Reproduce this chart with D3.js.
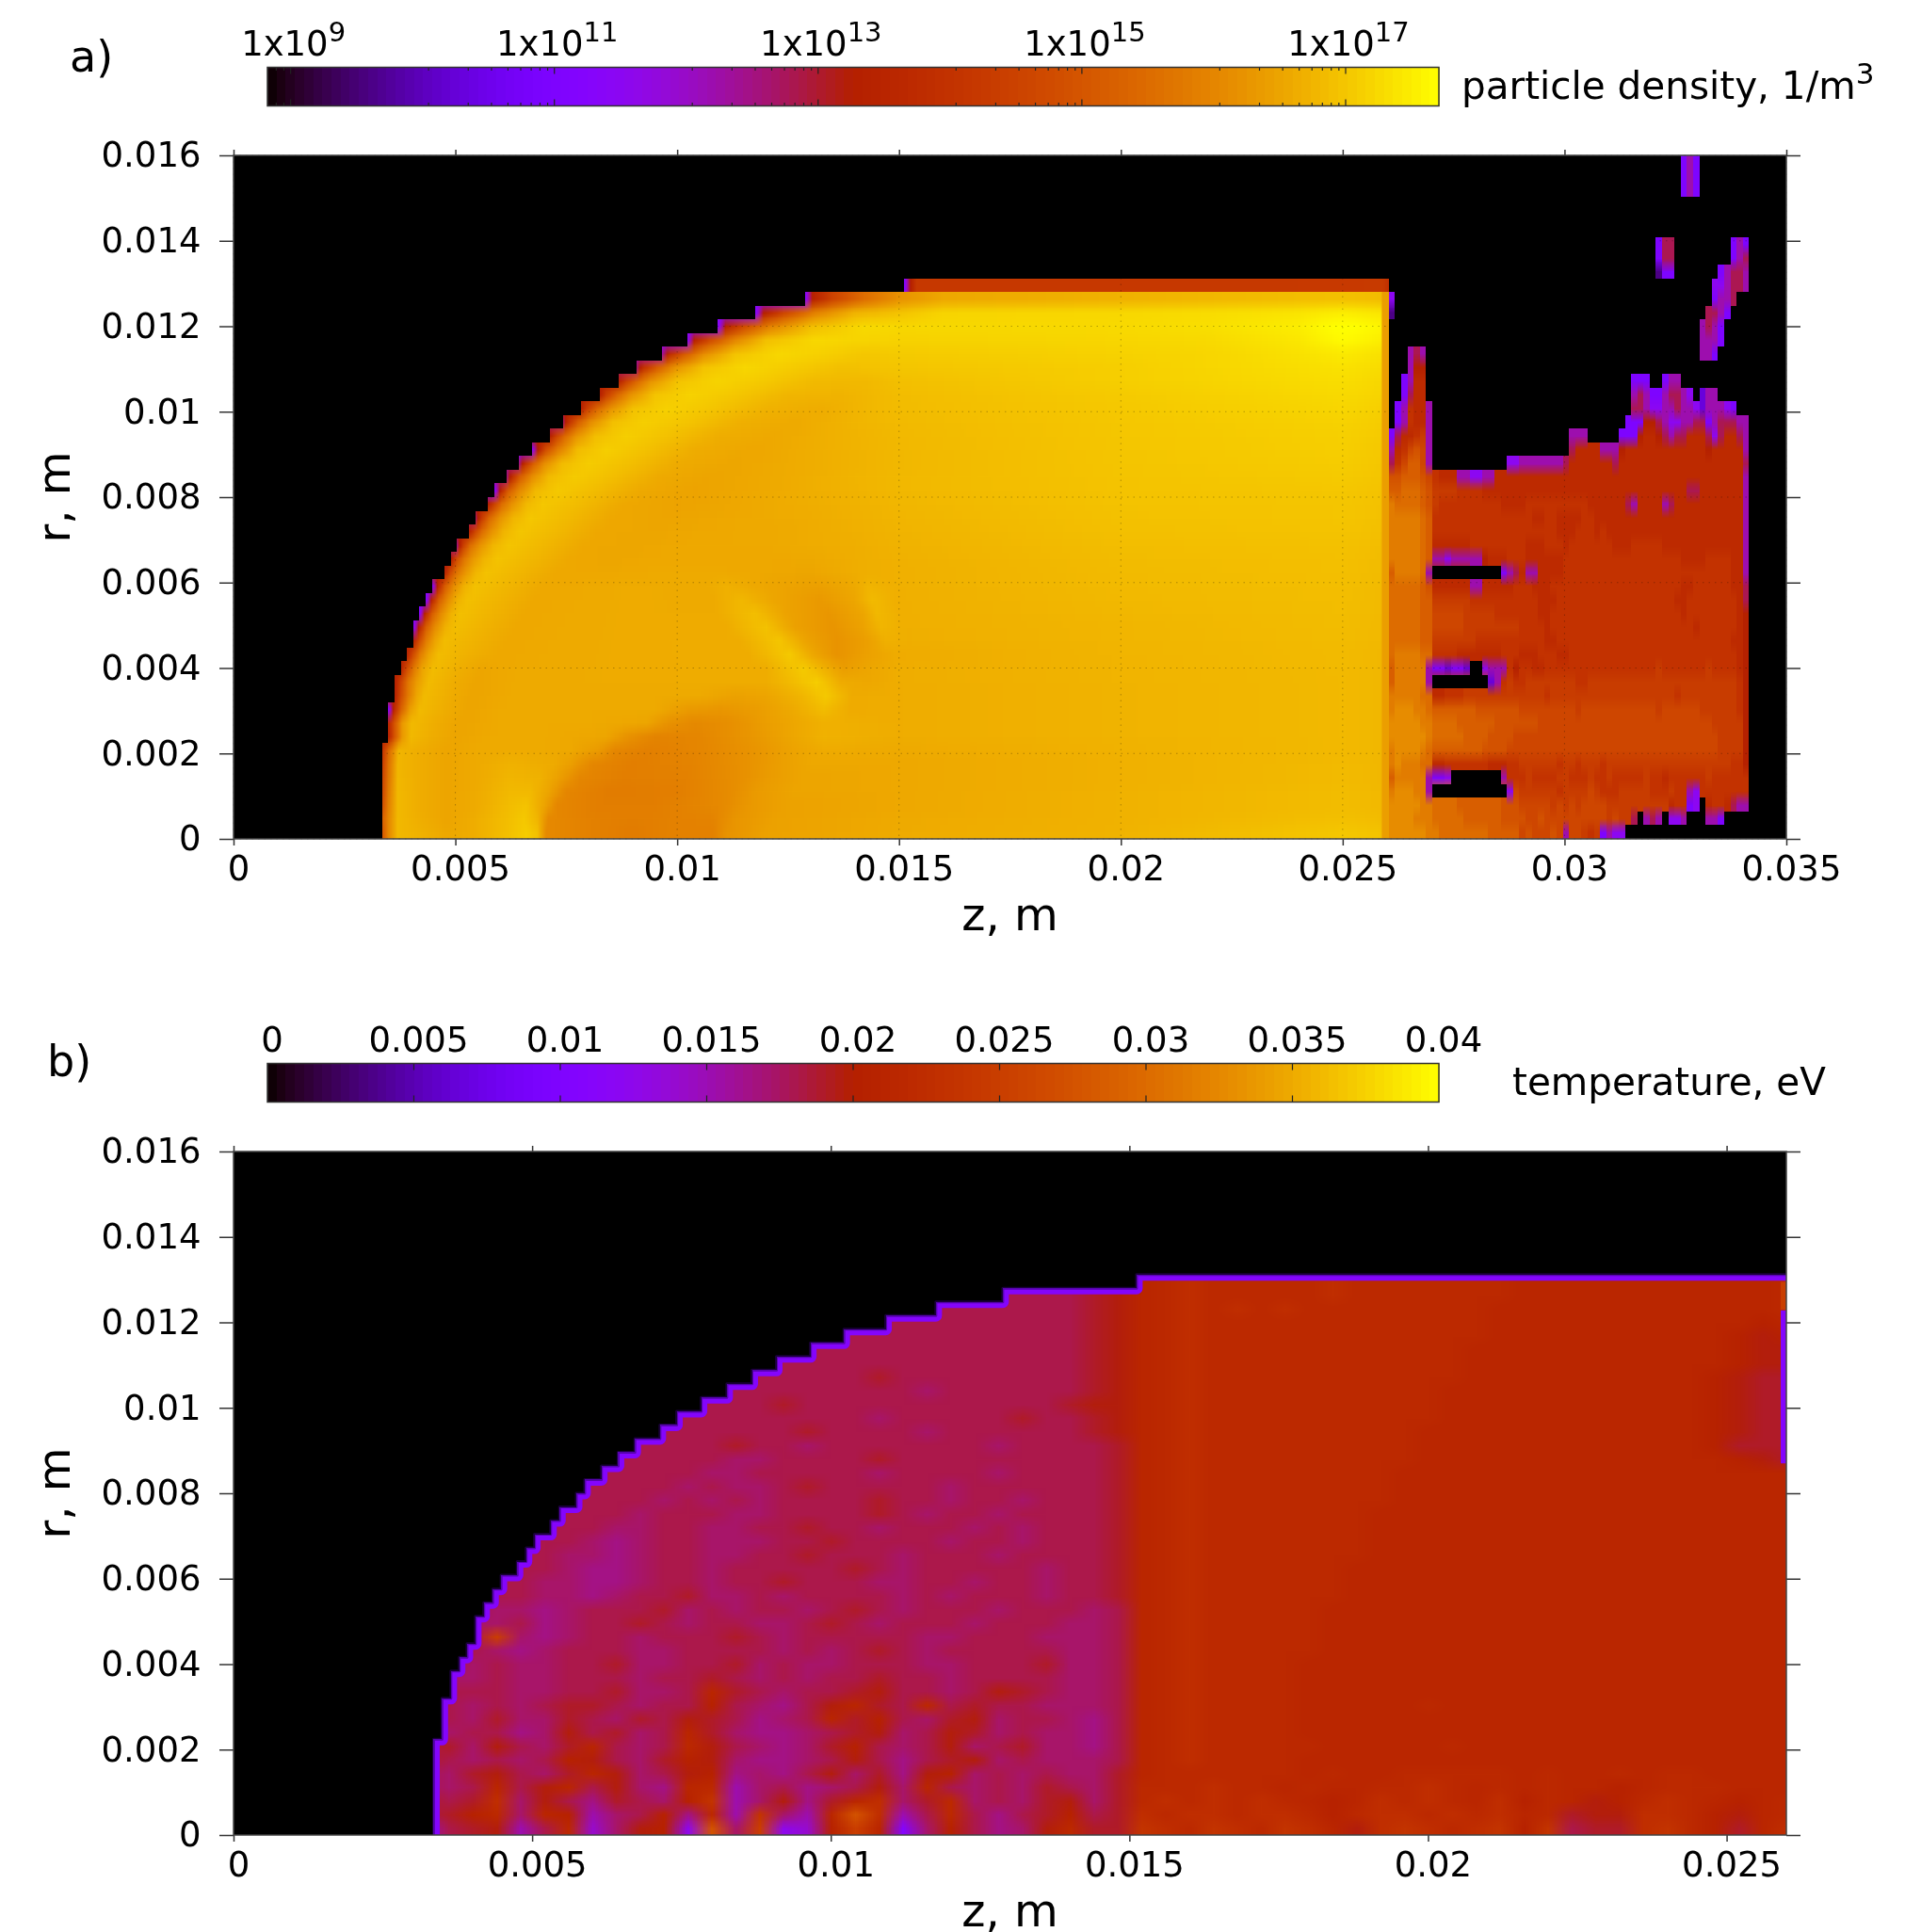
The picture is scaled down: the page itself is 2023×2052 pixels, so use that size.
<!DOCTYPE html>
<html><head><meta charset="utf-8">
<style>
html,body{margin:0;padding:0;background:#fff}
#wrap{position:relative;width:2023px;height:2052px;overflow:hidden;background:#fff}
canvas{position:absolute}
svg{position:absolute;left:0;top:0}
text{font-family:"DejaVu Sans";fill:#000}
</style>
<script src="https://cdn.jsdelivr.net/npm/d3@7/dist/d3.min.js"></script>
</head><body><div id="wrap"></div>
<script>
// ---------- tick labels ----------
const zTicksA=[0,0.005,0.01,0.015,0.02,0.025,0.03,0.035];
const zLabelsA=["0","0.005","0.01","0.015","0.02","0.025","0.03","0.035"];
const zTicksB=[0,0.005,0.01,0.015,0.02,0.025];
const zLabelsB=["0","0.005","0.01","0.015","0.02","0.025"];
const rTicks=[0,0.002,0.004,0.006,0.008,0.01,0.012,0.014,0.016];
const rLabels=["0","0.002","0.004","0.006","0.008","0.01","0.012","0.014","0.016"];
const densityBarExp=[9,11,13,15,17];
const tempBarTicks=[0,0.005,0.01,0.015,0.02,0.025,0.03,0.035,0.04];
const tempBarLabels=["0","0.005","0.01","0.015","0.02","0.025","0.03","0.035","0.04"];
// ---------- panel a: log10(density) along each 0.32 mm row, as [z mm, value, ...]; row 0 is at the axis ----------
const densityRows=[
[3.35,15,3.49,16,3.7,16.8,4.2,16.7,4.8,16.55,5.4,16.62,6.2,16.9,6.6,17.08,6.85,16.9,7.05,16.05,8,15.9,9,15.8,9.8,15.9,10.8,15.9,11.1,16.2,12,16.45,15,16.6,20,16.72,25,17,25.86,16.95],
[3.35,15.2,3.49,16,3.7,16.8,4.2,16.65,4.8,16.5,5.4,16.62,6.2,16.88,6.55,17.02,6.85,16.75,7.1,16.05,8,15.9,9,15.85,10.8,15.95,11.3,16.25,12.2,16.45,15,16.58,20,16.7,25,16.9,25.86,16.85],
[3.35,14.8,3.49,15.9,3.7,16.8,4.2,16.62,4.8,16.5,5.5,16.6,6.2,16.85,6.6,16.95,7,16.5,7.3,16,8.2,15.85,9.5,15.85,11,16.05,11.6,16.3,12.4,16.45,15,16.55,20,16.7,25,16.85,25.86,16.8],
[3.35,14.6,3.49,15.8,3.7,16.8,4.2,16.62,4.8,16.5,5.5,16.6,6.2,16.8,6.7,16.8,7.1,16.5,7.5,16,8.5,15.8,10,15.85,11.2,16.1,11.8,16.35,12.6,16.5,15,16.55,20,16.7,25,16.85,25.86,16.8],
[3.35,14.5,3.49,15.7,3.7,16.78,4.2,16.62,4.8,16.5,5.5,16.58,6.2,16.75,6.9,16.7,7.3,16.45,7.8,16,8.8,15.85,10.2,15.9,11.4,16.15,12,16.35,12.8,16.5,15,16.55,20,16.68,25,16.82,25.86,16.78],
[3.35,14.3,3.49,15.6,3.7,16.75,4.2,16.62,4.8,16.5,5.5,16.58,6.2,16.7,7.2,16.6,7.6,16.4,8.1,16,9,15.85,10.4,15.95,11.6,16.2,12.3,16.4,13,16.55,15,16.55,20,16.68,25,16.82,25.86,16.78],
[3.35,14,3.49,15.4,3.72,16.75,4.2,16.62,4.8,16.5,5.5,16.58,6.5,16.6,7.6,16.55,8.2,16.35,8.6,16,9.4,15.87,10.6,16,11.8,16.25,12.5,16.45,13.3,16.6,15,16.58,20,16.7,25,16.8,25.86,16.78],
[3.49,13.3,3.63,15,3.8,16.3,4,16.8,4.5,16.62,5,16.5,5.8,16.58,7,16.58,8.4,16.52,8.9,16.2,9.5,15.95,10.5,16,11.6,16.25,12.5,16.5,13.3,16.7,15,16.62,20,16.72,25,16.8,25.86,16.78],
[3.49,13.5,3.63,15,3.8,16.3,4.02,16.82,4.6,16.62,5.1,16.5,6,16.58,8,16.58,9.3,16.52,9.8,16.2,10.4,16.05,11.2,16.15,12,16.4,12.7,16.55,13.3,16.68,15,16.62,20,16.72,25,16.8,25.86,16.78],
[3.49,11.2,3.63,13.8,3.78,15.3,3.98,16.4,4.2,16.82,4.8,16.62,5.3,16.5,6,16.58,8,16.58,9.5,16.58,10.3,16.32,11,16.27,11.8,16.38,12.6,16.58,13.3,16.85,13.9,16.6,15,16.62,20,16.72,25,16.8,25.86,16.78],
[3.64,13.4,3.78,14.8,3.94,15.8,4.12,16.5,4.3,16.83,4.9,16.62,5.4,16.5,6.2,16.58,8.5,16.58,10.5,16.58,11.3,16.45,12,16.5,12.8,16.75,13.35,17.03,13.95,16.6,15,16.62,20,16.72,25,16.8,25.86,16.78],
[3.64,13.3,3.78,14.6,3.94,15.7,4.14,16.4,4.4,16.83,5,16.62,5.5,16.5,6.3,16.58,9,16.6,12,16.62,12.55,16.82,13.15,17.08,13.7,16.6,14.3,16.55,15,16.63,20,16.73,25,16.8,25.86,16.78],
[3.78,13.5,3.92,14.8,4.08,15.8,4.26,16.5,4.5,16.85,5.1,16.65,5.6,16.52,6.4,16.58,9,16.6,12,16.62,12.35,16.82,12.85,17.05,13.35,16.65,13.75,16.38,14.3,16.52,15,16.63,20,16.73,25,16.82,25.86,16.78],
[3.91,13.5,4.05,14.8,4.2,15.8,4.4,16.5,4.62,16.85,5.3,16.68,6,16.55,7,16.58,9,16.6,11.6,16.62,12.05,16.8,12.55,17.03,13.05,16.55,13.6,16.22,14.2,16.42,14.9,16.6,20,16.74,25,16.82,25.86,16.78],
[4.05,13.4,4.19,14.8,4.34,15.8,4.54,16.5,4.75,16.85,5.5,16.7,6.2,16.55,7.2,16.58,9,16.6,11.4,16.62,11.85,16.8,12.3,16.98,12.9,16.48,13.6,16.22,14.3,16.42,14.7,16.68,15.2,16.65,20,16.75,25,16.84,25.86,16.8],
[4.05,11.2,4.19,13.6,4.34,15.2,4.54,16.1,4.78,16.7,5,16.87,5.7,16.7,6.4,16.55,7.4,16.58,9,16.6,11.1,16.6,11.55,16.78,12,16.93,12.65,16.45,13.5,16.24,14.2,16.47,14.6,16.75,15.1,16.66,20,16.75,25,16.85,25.86,16.8],
[4.19,11.2,4.33,13.7,4.48,15.2,4.68,16.1,4.9,16.7,5.1,16.9,5.85,16.72,6.6,16.55,7.6,16.58,9,16.6,10.9,16.6,11.3,16.74,11.75,16.88,12.45,16.48,13.4,16.27,14.2,16.52,14.5,16.8,15,16.66,20,16.78,25,16.86,25.86,16.82],
[4.34,11.2,4.48,13.7,4.63,15.2,4.83,16.1,5.05,16.7,5.28,16.9,6.05,16.72,6.8,16.55,7.8,16.58,9,16.6,10.8,16.58,11.45,16.78,12.2,16.52,13.2,16.32,14,16.52,14.4,16.82,14.9,16.66,20,16.8,25,16.87,25.86,16.82],
[4.48,11.3,4.62,13.7,4.77,15.2,4.97,16.1,5.2,16.7,5.45,16.92,6.25,16.74,7,16.55,8,16.58,9,16.6,10.6,16.58,11.1,16.68,12,16.52,13.2,16.42,14,16.57,14.3,16.74,14.8,16.67,20,16.82,25,16.88,25.86,16.83],
[4.75,13.3,4.89,14.8,5.04,15.7,5.24,16.3,5.45,16.75,5.7,16.93,6.5,16.75,7.3,16.55,8.2,16.55,9.5,16.58,11,16.58,12,16.55,13,16.52,14.2,16.65,15,16.67,20,16.83,25,16.89,25.86,16.84],
[4.9,13.2,5.04,14.8,5.2,15.7,5.4,16.3,5.65,16.75,5.95,16.95,6.8,16.76,7.6,16.55,8.5,16.52,9.5,16.56,11,16.56,12,16.55,13,16.57,14.2,16.65,15,16.69,20,16.85,25,16.9,25.86,16.85],
[5.04,12.5,5.18,14.4,5.33,15.5,5.55,16.2,5.85,16.75,6.2,16.97,7,16.78,7.9,16.55,9,16.52,10,16.56,12,16.57,14,16.65,15,16.71,20,16.87,25,16.92,25.86,16.87],
[5.31,13.3,5.45,14.6,5.6,15.5,5.82,16.2,6.1,16.75,6.45,16.98,7.3,16.8,8.2,16.55,9.4,16.52,10.5,16.55,12.5,16.58,14,16.67,15,16.73,20,16.9,25,16.95,25.86,16.9],
[5.46,12.7,5.6,14.3,5.76,15.4,6,16.2,6.3,16.75,6.7,17,7.5,16.82,8.5,16.55,9.7,16.5,11,16.55,13,16.62,15,16.75,20,16.92,25,16.97,25.86,16.92],
[5.74,13.3,5.88,14.5,6.04,15.5,6.28,16.2,6.6,16.8,6.98,17,7.8,16.84,8.8,16.55,10,16.48,11.5,16.55,13.5,16.67,15,16.77,20,16.94,25,16.98,25.86,16.93],
[5.88,11.2,6.02,13.5,6.18,15.1,6.42,16,6.8,16.8,7.3,17.03,8.15,16.85,9.2,16.57,10.4,16.48,12,16.58,14,16.72,15,16.79,20,16.95,25,17,25.86,16.95],
[6.16,12.5,6.3,14,6.46,15.2,6.72,16.1,7.1,16.82,7.68,17.05,8.55,16.88,9.6,16.58,10.8,16.5,12.5,16.6,14,16.74,15,16.8,20,16.96,25,17.04,25.86,16.98],
[6.44,12.5,6.58,14,6.76,15.2,7,16.1,7.4,16.84,8,17.07,8.9,16.9,10,16.6,11.3,16.52,13,16.63,15,16.78,20,16.97,25,17.07,25.86,17],
[6.72,11.2,6.86,13.3,7.04,14.8,7.3,15.8,7.75,16.84,8.4,17.1,9.3,16.92,10.4,16.62,11.8,16.53,13.5,16.68,15,16.79,20,16.98,25,17.1,25.86,17.02],
[7.14,13.3,7.28,14.5,7.46,15.4,7.72,16.2,8.15,16.88,8.85,17.1,9.8,16.92,10.9,16.64,12.2,16.56,14,16.72,15,16.8,20,16.99,25,17.12,25.86,17.05],
[7.42,12.6,7.56,14,7.76,15.2,8.05,16.1,8.55,16.9,9.25,17.1,10.3,16.95,11.4,16.67,12.7,16.58,14,16.75,15,16.82,20,17,25,17.15,25.86,17.08],
[7.83,13.3,7.97,14.4,8.2,15.4,8.5,16.2,9,16.93,9.75,17.13,10.8,16.97,12,16.7,13.2,16.62,14.5,16.8,15,16.84,20,17.02,25,17.2,25.86,17.12],
[8.26,13.3,8.4,14.4,8.65,15.4,8.95,16.2,9.5,16.95,10.29,17.15,11.3,17,12.5,16.75,13.7,16.72,15,16.86,20,17.05,25,17.25,25.86,17.18],
[8.68,13.3,8.85,14.4,9.1,15.4,9.4,16.2,10,16.95,10.9,17.17,12,17.03,13.1,16.82,14.2,16.8,15,16.9,20,17.1,25,17.3,25.86,17.22],
[9.09,12.6,9.25,14,9.55,15.2,9.95,16.2,10.6,16.95,11.52,17.2,12.6,17.06,13.7,16.9,15,16.98,20,17.1,25,17.35,25.86,17.28],
[9.66,12.3,9.85,13.8,10.15,15,10.6,16.1,11.3,16.95,12.28,17.22,13.3,17.12,14.2,17,15,17.05,20,17.15,22,17.2,24,17.35,25,17.45,25.86,17.35],
[10.22,11.3,10.4,13.5,10.75,14.8,11.3,16,12,16.9,13.1,17.22,14,17.18,15,17.15,20,17.2,22,17.25,24,17.42,25,17.65,25.86,17.5],
[10.92,11.3,11.1,13.4,11.5,14.7,12.1,15.9,13,16.85,14.2,17.25,15,17.22,20,17.25,22,17.32,24,17.5,25,17.75,25.86,17.6],
[11.76,11.2,11.95,13.3,12.4,14.6,13.1,15.9,14,16.72,16,17.18,20,17.22,22,17.28,24,17.38,25,17.5,25.86,17.4],
[12.88,11.2,13.05,13.3,13.5,14.5,14.2,15.5,15,16.2,16,16.55,20,16.7,25,16.9,25.86,16.85]
];
const densityStrip=[15.12,11.2,15.26,13.3,15.4,14.2,20,14.2,25.9,14.25,26.04,13.9];
const densityEndColumn=[25.9,16.4,26.04,16.4];
// plume beyond the solid: per row, runs of [first column, cell codes]
const plumeLevels={v:9.6,w:10.3,p:11,q:11.5,m:12.2,n:12.8,r:13.3,0:13.7,1:14,2:14.3,3:14.6,4:14.9,5:15.2,6:15.5,7:15.8,8:16.1,9:16.4};
const plumeRuns=[
[[0,"8888887"+"766666666555"+"55"+"3433343"+"m"+"33212"+"pmqq"]],
[[0,"8888777"+"666665555554"+"4443343333333333232"+"2n.mnm.qqm...mmp"]],
[[0,"8888877"+"666655555554"+"4433333232323333222"+"2222222011pq.0110nmm"]],
[[0,"788877m"+"............"+"q"+"322222212222321112"+"2222111211mq11111111"]],
[[0,"577777m"+"ppq........m"+"1112111122111211211"+"1112110111"+"1112111111"]],
[[0,"7877766"+"001111111000"+"1122222212212221222"+"2222222222222222211r"]],
[[0,"7888876"+"555555554444"+"3333333333333333333"+"3333333333333332222r"]],
[[0,"8888887"+"666665555444"+"4333333333333333333"+"3333333333333332222r"]],
[[0,"8888877"+"666655555544"+"4444433333333333333"+"3333333333333322222r"]],
[[0,"7888776"+"555555544444"+"4433333333323333333"+"3333323333332222221r"]],
[[0,"7777766"+"001112222222"+"2222221222222222222"+"2222222212222222221r"]],
[[0,"577777m"+".........wm1"+"2112222222211222222"+"2222222222222222221r"]],
[[0,"577777m"+"ppwppw..qmmm"+"1r11001111111111111"+"1111121111111211110r"]],
[[0,"6777766"+"111100000001"+"1100011100111111111"+"1111111111111111110r"]],
[[0,"6666655"+"222222211111"+"1111110011111111111"+"1111111111111111100r"]],
[[0,"6666655"+"333332222222"+"2211110111111111111"+"1111111111101111110r"]],
[[0,"6666655"+"333332222211"+"1111100111111111111"+"1111111110111111110r"]],
[[0,"6666655"+"222222111111"+"1111100011111111111"+"1111111100111111110n"]],
[[0,"6666654"+"000000mm0000"+"0111000111111111111"+"1111111110011111100n"]],
[[0,"577776m"+"...........p"+"mn0mm00001111111111"+"1111111111111111100m"]],
[[0,"7777765"+"mmqmmmmmr000"+"1110000001111111111"+"1111111110000111100m"]],
[[0,"7777765"+"000000111111"+"1110001110111111100"+"0111110000000000000m"]],
[[0,"7777765"+"111111111111"+"1111111100011101000"+"0000000000000000000m"]],
[[0,"7777765"+"111111111111"+"1111001100001100000"+"0000000000000000000m"]],
[[0,"7666654"+"211111111110"+"0001111111111000000"+"nm0000mn00000000000m"]],
[[0,"5566654"+"222211110000"+"0000000000000000000"+"0000000000nn0000000m"]],
[[0,"4455543"+"1000mmqqmm00"+"0000000000000000000"+"0000000000000000000m"]],
[[0,"n13553m"],[19,"qqmmmmmmmn"+"0000000n0"+"0000000000000000000n"]],
[[0,"m01343m"],[29,"n00"+"00mmm"+"r0000000000000r00000m"]],
[[0,"pn0012m"],[29,"mmm"],[37,"pppr00rnmnn000nqn00nm"]],
[[1,"pm100m"],[38,"ppprrnmqqmmnnpmnnnmm"]],
[[1,"pm100m"],[39,"nnmqqmmnmmqwmmmqp"]],
[[2,"pn00"],[39,"mnmppmnnmq.wmm"]],
[[2,"pm00"],[39,"ppp"],[44,"pmm"]],
[[3,"mrr"]],
[[3,"mnm"],[50,"mmp"]],
[[50,"mmmp"]],
[[50,"mnmp"]],
[[0,"v"],[51,"nnmp"]],
[[0,"q"],[52,"pmmn"]],
[[52,"qqmnnm"]],
[[43,"vpp"],[53,"pmnnm"]],
[[43,"pnn"],[55,"pmn"]],
[[43,"pnn"],[55,"pmp"]],
[],[],[],
[[47,"pmp"]],[[47,"pmp"]],[[47,"pmp"]]
];
// ---------- panel b: temperature cell codes, columns every 0.4 mm from z = 3.2 mm, row 0 at the axis ----------
const tempLevels={a:.0108,b:.0125,c:.014,d:.0152,e:.0165,f:.0173,g:.0181,h:.019,i:.0197,j:.0205,k:.0212,l:.0218,m:.0226,n:.0235,o:.025,p:.0275,q:.03};
const tempRows=[
"dghidglcfijbpfobcjokafjgefilhh"+"nmlnmlnmkimnmlmnjnghhmnljhkm",
"ghjlfkjdfgjeldnfdkpmdglgeghjgh"+"mlmmlmmljlmmlmlmklhiimmljikl",
"hghmfigehgfjndfiehkmfhlfgfhifh"+"lmlmlmlkjkmlmlkmjlkijlmlkjkl",
"gfgkgikgifekldfgefgifkgfgfhgfh"+"lllmllklkkllmlklklkkjklllkkk",
"gfhigfhkifgijefegifheijfgfgffh"+"kllllllklkklllllklkklkllkkkk",
"hgfgfgjigfhjifeefgigeghifgfffg"+"klmllllkkkkkkkkkkkkkkkkkkkkk",
"ghfigfhkgfgligfefhjgfgifghffeg"+"klmlllllkkkkklkkkkkkkkkkkkkk",
"gfggefighfgkhfeefghifgihfgffeg"+"klmllllkkkkkkkkkkkkkkkkkkkkk",
"fgfhffhgfhgihgefgkhjgfhifggfeg"+"klmllllkkkkkkkkkkkkkkkkkkkkk",
"ggfgfghhgfggjgfegikhglghggfffg"+"klmllllkkkkklkkkkkkkkkkkkkkk",
"fgggffgghffgkhgfgghiggfgihgffg"+"klmllllkkkkkkkkkkkkkkkkkkkkk",
"gffgffgggfgghgfgfgghggfggggffg"+"klmllllkkkkkkkkkkkkkkkkkkkkk",
"ggfgffgghffgghfgffgggffggghffg"+"klmllllkkkkkkkkkkkkkkkkkkkkk",
"fggfefgggffggggfgfghgfgggggffg"+"klmlllllkkkkkkkkkkkkkkkkkkkk",
"gggofefggfggghgfgggggffgggfffg"+"klmlllllkkkkkkkkkkkkkkkkkkkk",
"ggffgefgghgfggffghgfgggfgggffg"+"klmlllllkkkkkkkkkkkkkkkkkkkk",
"gggffefggghfgfggfghgfgggfgggfg"+"klmlllllkkkkkkkkkkkkkkkkkkkk",
"ggfggffefgghffgfggggfgfgggfggh"+"klmllllllkkkkkkkkkkkkkkkkkkk",
"gfgggffeefggfgghgggffggfggfggh"+"klmllllllkkkkkkkkkkkkkkkkkkk",
"ggggggfeefggfggggghgfgggggfggh"+"klmllllllkkkkkkkkkkkkkkkkkkk",
"ggggggffefggffgghgggfgggfggggh"+"klmlllllllkkkkkkkkkkkkkkkkkk",
"gggggggfefggfffgghggggfggfgggh"+"klmlllllllkkkkkkkkkkkkkkkkkk",
"ggggggggffggffgghggfgggfgfgggh"+"klmlllllllkkkkkkkkkkkkkkkkkk",
"gggggggggfgggffgggghgfggfggggh"+"klmlllllllkkkkkkkkkkkkkkkkkk",
"ggggggggggfgfgfgggghggfggfgggh"+"klmllllllllkkkkkkkkkkkkkkkkk",
"gggggggggggfgffghgggggfggggggh"+"klmllllllllkkkkkkkkkkkkkkkkk",
"ggggggggggggffgggggfggggfggggh"+"klmllllllllkkkkkkkkkkkkkkkkk",
"gggggggggggggffgggghgggggggggh"+"klmlllllllllkkkkkkkkkkkkkjih",
"ggggggggggggghggfgggggggfgggghi".slice(0,30)+"klmlllllllllkkkkkkkkkkkkjhhh",
"gggggggggggggggghggggfgggggghi"+"klmlllllllllkkkkkkkkkkkkjihh",
"gggggggggggggggggggfggggghgghi"+"klmllllllllllkkkkkkkkkkkjihh",
"ggggggggggggggghggggggggggghi".padEnd(30,"i")+"klmllllllllllkkkkkkkkkkkjihh",
"gggggggggggggggggggggfgggggghi"+"klmllllllllllkkkkkkkkkkkjihh",
"ggggggggggggggggggghgggggggghi"+"klmlllllllllllkkkkkkkkkkjihh",
"gggggggggggggggggggggggggggghi"+"klmlllllllllllkkkkkkkkkkkjii",
"gggggggggggggggggggggggggggghi"+"klmlllllllllllkkkkkkkkkkkjii",
"gggggggggggggggggggggggggggghi"+"klmllllllllllllkkkkkkkkkkjij",
"gggggggggggggggggggggggggggghi"+"klmllllllllllllkkkkkkkkkkkjk",
"gggggggggggggggggggggggggggghi"+"klmlmlmllllllllkkkkkkkkkkkkl",
"gggggggggggggggggggggggggggghi"+"klmlllllmlllllllkkkkkkkkkkkl",
"gggggggggggggggggggggggggggghi"+"klmlllllmlllllllkkkkkkkkkkkl"
];
const tempEndCaps=[{r0:8.7,r1:12.28,t:.0108},{r0:12.3,r1:12.95,t:.025}];
// ---------- geometry ----------
const L=248,R=1897,TA=165,BA=891,TB=1223,BB=1949,BARL=284,BARR=1528;
const ROWS=50,RSTEP=0.32,PW=R-L,PH=BA-TA;
const xA=d3.scaleLinear().domain([0,0.035]).range([L,R]);
const xB=d3.scaleLinear().domain([0,0.026]).range([L,R]);
const yA=d3.scaleLinear().domain([0,0.016]).range([BA,TA]);
const yB=d3.scaleLinear().domain([0,0.016]).range([BB,TB]);
const gp=f=>{f=Math.max(0,Math.min(1,f));return[Math.sqrt(f)*255,f*f*f*255,Math.max(0,Math.sin(2*Math.PI*f))*255];};
const LOGMIN=8.824,LOGMAX=17.707;
const cDensity=d3.scaleLinear().domain([LOGMIN,LOGMAX]).range([0,1]).clamp(true);
const cTemp=d3.scaleLinear().domain([0,0.04]).range([0,1]).clamp(true);
const pairs=a=>{const z=[],v=[];for(let i=0;i<a.length;i+=2){z.push(a[i]);v.push(a[i+1]);}return{z,v};};
const mk=(w,h)=>{const c=document.createElement("canvas");c.width=w;c.height=h;return c;};
const wrap=d3.select("#wrap");
const addCanvas=(t)=>wrap.append("canvas").attr("width",PW).attr("height",PH).style("left",L+"px").style("top",t+"px").node();
const edgeMm=densityRows.map(r=>r[0]).concat([15.12]);
// ---------- panel a raster ----------
(function(){
  const cv=addCanvas(TA),ctx=cv.getContext("2d");
  const off=mk(PW,ROWS),oc=off.getContext("2d"),img=oc.createImageData(PW,ROWS);
  const set=(px,k,f)=>{const c=gp(f),i=((ROWS-1-k)*PW+px)*4;img.data[i]=c[0];img.data[i+1]=c[1];img.data[i+2]=c[2];img.data[i+3]=255;};
  const rowFn=a=>{const p=pairs(a.concat(densityEndColumn));return d3.scaleLinear().domain(p.z).range(p.v).clamp(true);};
  const rowF=densityRows.map(rowFn);
  const xmm=px=>xA.invert(L+px+.5)*1000;
  const Z0=26.04,CELL=0.14,NC=58;
  const pxEnd=Math.round(xA(Z0/1000)-L);
  for(let k=0;k<ROWS;k++){const fn=rowF[Math.min(k,rowF.length-1)];for(let px=0;px<pxEnd;px++)set(px,k,cDensity(fn(xmm(px))));}
  const grid=plumeRuns.map(runs=>{const g=new Array(NC).fill(".");runs.forEach(([s,t])=>{for(let i=0;i<t.length&&s+i<NC;i++)g[s+i]=t[i];});return g;});
  const colX=c=>c>=NC?Math.round(xA((Z0+NC*CELL)/1000)-L):Math.round(xA((Z0+c*CELL)/1000)-L);
  for(let c=0;c<NC;c++){
    const x0=colX(c),x1=colX(c+1);
    for(let k=0;k<ROWS;k++){
      let ch=grid[k][c];
      if(ch==="."){for(let d=1;d<ROWS&&ch===".";d++){if(k-d>=0&&grid[k-d][c]!==".")ch=grid[k-d][c];else if(k+d<ROWS&&grid[k+d][c]!==".")ch=grid[k+d][c];}}
      if(ch===".")ch="p";
      for(let px=x0;px<x1;px++)set(px,k,cDensity(plumeLevels[ch]));
    }
  }
  oc.putImageData(img,0,0);
  ctx.imageSmoothingEnabled=true;ctx.imageSmoothingQuality="low";
  ctx.drawImage(off,0,0,PW,ROWS,0,0,PW,PH);
  const st=pairs(densityStrip),sf=d3.scaleLinear().domain(st.z).range(st.v).clamp(true);
  const rowTop=k=>Math.round(yA((k+1)*RSTEP/1000)-TA),rowBot=k=>Math.round(yA(k*RSTEP/1000)-TA);
  for(let px=0;px<pxEnd;px++){const c=gp(cDensity(sf(xmm(px))));ctx.fillStyle=`rgb(${c[0]|0},${c[1]|0},${c[2]|0})`;ctx.fillRect(px,rowTop(40),1,rowBot(40)-rowTop(40));}
  ctx.fillStyle="#000";
  for(let k=0;k<ROWS;k++){
    const e=k<edgeMm.length?edgeMm[k]:Z0,y0=rowTop(k),h=rowBot(k)-y0;
    ctx.fillRect(0,y0,Math.round(xA(e/1000)-L),h);
    for(let c=0;c<NC;c++)if(grid[k][c]===".")ctx.fillRect(colX(c),y0,colX(c+1)-colX(c),h);
  }
  ctx.fillRect(colX(NC),0,PW,PH);
})();
// ---------- panel b raster ----------
(function(){
  const cv=addCanvas(TB),ctx=cv.getContext("2d");
  const NC=58,off=mk(NC,ROWS),oc=off.getContext("2d"),img=oc.createImageData(NC,ROWS);
  for(let k=0;k<ROWS;k++){
    const s=tempRows[Math.min(k,tempRows.length-1)];
    for(let j=0;j<NC;j++){
      const ch=s[Math.min(j,s.length-1)],c=gp(cTemp(tempLevels[ch])),i=((ROWS-1-k)*NC+j)*4;
      img.data[i]=c[0];img.data[i+1]=c[1];img.data[i+2]=c[2];img.data[i+3]=255;
    }
  }
  oc.putImageData(img,0,0);
  const X=z=>xB(z/1000)-L, Y=r=>yB(r/1000)-TB;
  ctx.fillStyle="#000";ctx.fillRect(0,0,PW,PH);
  ctx.imageSmoothingEnabled=true;ctx.imageSmoothingQuality="low";
  ctx.drawImage(off,0,0,NC,ROWS,X(3.0),0,X(26.2)-X(3.0),PH);
  const stair=[];
  edgeMm.forEach((e,k)=>{stair.push([e,k*RSTEP],[e,(k+1)*RSTEP]);});
  stair.push([26.5,41*RSTEP]);
  const line=d3.line().x(d=>X(d[0])).y(d=>Y(d[1])).context(ctx);
  ctx.lineJoin="round";
  const cTxt=t=>{const c=gp(cTemp(t));return`rgb(${c[0]|0},${c[1]|0},${c[2]|0})`;};
  ctx.beginPath();line(stair);ctx.strokeStyle=cTxt(.0108);ctx.lineWidth=13;ctx.stroke();
  ctx.fillStyle="#000";
  edgeMm.forEach((e,k)=>{const y0=Math.round(Y((k+1)*RSTEP)),y1=Math.round(Y(k*RSTEP));ctx.fillRect(0,y0,Math.round(X(e)),y1-y0);});
  ctx.fillRect(0,0,PW,Math.round(Y(41*RSTEP)));
  ctx.beginPath();line(stair);ctx.strokeStyle="rgba(50,0,110,.55)";ctx.lineWidth=3;ctx.stroke();
  tempEndCaps.forEach(s=>{ctx.fillStyle=cTxt(s.t);ctx.fillRect(PW-6,Y(s.r1),6,Y(s.r0)-Y(s.r1));});
})();
// ---------- SVG layer ----------
const svg=wrap.append("svg").attr("width",2023).attr("height",2052);
function panel(x,y,zT,zL,grid){
  const top=y.range()[1],bot=y.range()[0];
  if(grid){
    const g=svg.append("g").attr("stroke","rgba(0,0,0,.28)").attr("stroke-width",1).attr("stroke-dasharray","1.5,5");
    g.selectAll(".gx").data(zT).join("line").attr("x1",d=>x(d)).attr("x2",d=>x(d)).attr("y1",top).attr("y2",bot);
    g.selectAll(".gy").data(rTicks).join("line").attr("y1",d=>y(d)).attr("y2",d=>y(d)).attr("x1",L).attr("x2",R);
  }
  const style=s=>{s.select(".domain").remove();s.selectAll("line").attr("stroke","#333").attr("stroke-width",1.5);s.selectAll("text").attr("font-size",37).attr("font-family","DejaVu Sans").attr("fill","#000");};
  svg.append("g").attr("transform",`translate(0,${bot})`).call(d3.axisBottom(x).tickValues(zT).tickFormat((d,i)=>zL[i]).tickSize(7).tickPadding(10.7)).call(style).selectAll("text").attr("dx",5);
  svg.append("g").attr("transform",`translate(0,${top})`).call(d3.axisTop(x).tickValues(zT).tickFormat("").tickSize(6)).call(style);
  svg.append("g").attr("transform",`translate(${L},0)`).call(d3.axisLeft(y).tickValues(rTicks).tickFormat((d,i)=>rLabels[i]).tickSize(15).tickPadding(19.5)).call(style);
  svg.append("g").attr("transform",`translate(${R},0)`).call(d3.axisRight(y).tickValues(rTicks).tickFormat("").tickSize(15)).call(style);
  svg.append("rect").attr("x",L).attr("y",top).attr("width",R-L).attr("height",bot-top).attr("fill","none").attr("stroke","#444").attr("stroke-width",1.5);
  svg.append("text").attr("x",(L+R)/2).attr("y",bot+97).attr("text-anchor","middle").attr("font-size",48).text("z, m");
  svg.append("text").attr("transform",`translate(74,${(top+bot)/2}) rotate(-90)`).attr("text-anchor","middle").attr("font-size",48).text("r, m");
}
panel(xA,yA,zTicksA,zLabelsA,true);
panel(xB,yB,zTicksB,zLabelsB,false);
// ---------- colour bars ----------
function bar(top,bottom){
  const N=128,band=d3.scaleBand().domain(d3.range(N)).range([BARL,BARR]);
  const g=svg.append("g").attr("shape-rendering","crispEdges");
  g.selectAll("rect").data(d3.range(N)).join("rect").attr("x",d=>band(d)).attr("y",top).attr("width",band.bandwidth()+.6).attr("height",bottom-top)
   .attr("fill",d=>{const c=gp((d+.5)/N);return`rgb(${c[0]|0},${c[1]|0},${c[2]|0})`;});
}
function ticks(vals,len,top,bottom,scale,col){
  svg.append("g").attr("stroke",col||"#222").attr("stroke-width",1.2).selectAll("path").data(vals).join("path")
    .attr("d",d=>{const x=scale(d);return`M${x},${top}v${len}M${x},${bottom}v${-len}`;});
}
function frame(top,bottom){svg.append("rect").attr("x",BARL).attr("y",top).attr("width",BARR-BARL).attr("height",bottom-top).attr("fill","none").attr("stroke","#333").attr("stroke-width",1.5);}
const BA1=71.5,BA2=112.5,BB1=1129.5,BB2=1170.5;
bar(BA1,BA2);bar(BB1,BB2);
const logBar=d3.scaleLinear().domain([LOGMIN,LOGMAX]).range([BARL,BARR]);
ticks(densityBarExp,7,BA1,BA2,logBar);
const minorFractions=[1/9,2/9,3/9,4/9,5/9,6/9,7/9,8/9];
const minors=[];densityBarExp.forEach(e=>minorFractions.forEach(m=>{const v=e+Math.log10(m);if(v>LOGMIN&&v<LOGMAX)minors.push(v);}));
ticks(minors,3.5,BA1,BA2,logBar);
frame(BA1,BA2);
const tempBar=d3.scaleLinear().domain([0,0.04]).range([BARL,BARR]);
ticks(tempBarTicks.slice(1,-1),7,BB1,BB2,tempBar);
frame(BB1,BB2);
densityBarExp.forEach(e=>{
  const t=svg.append("text").attr("x",logBar(e)+3).attr("y",59).attr("text-anchor","middle").attr("font-size",37).text("1x10");
  t.append("tspan").attr("font-size",29).attr("dy",-15).text(e);
});
svg.selectAll(".tb").data(tempBarTicks).join("text").attr("x",d=>tempBar(d)+5).attr("y",1117).attr("text-anchor","middle").attr("font-size",37).text((d,i)=>tempBarLabels[i]);
const t1=svg.append("text").attr("x",1552).attr("y",105).attr("font-size",40.5).text("particle density, 1/m");
t1.append("tspan").attr("font-size",31).attr("dy",-16).text("3");
svg.append("text").attr("x",1606).attr("y",1163).attr("font-size",40.5).text("temperature, eV");
svg.append("text").attr("x",74).attr("y",76).attr("font-size",46).text("a)");
svg.append("text").attr("x",50).attr("y",1143).attr("font-size",46).text("b)");
</script></body></html>
